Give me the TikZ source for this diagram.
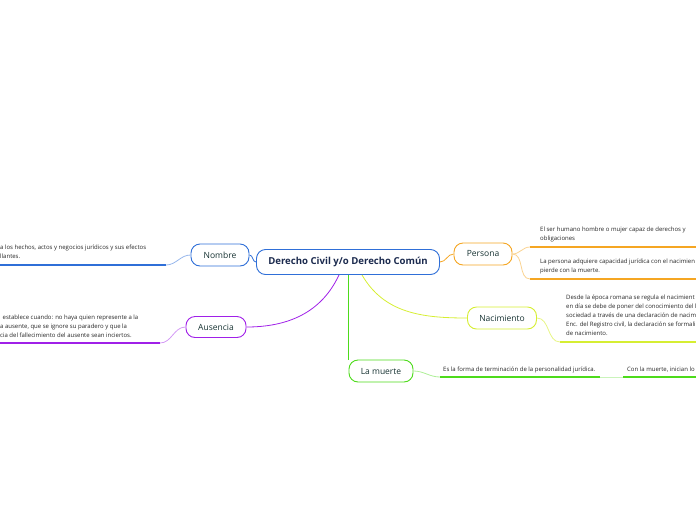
\documentclass[tikz,border=0pt]{standalone}
\usepackage{fontspec}
\setmainfont{Open Sans}
\definecolor{cblue}{HTML}{2F6FD8}
\definecolor{cnavy}{HTML}{1B2A4E}
\definecolor{corange}{HTML}{F5A623}
\definecolor{cpurple}{HTML}{A020E8}
\definecolor{clime}{HTML}{D6EE32}
\definecolor{cgreen}{HTML}{4DDB1B}
\definecolor{ctext}{HTML}{163232}
\definecolor{cleaf}{HTML}{262626}

\begin{document}
\begin{tikzpicture}[x=1pt,y=1pt,
    topic/.style={draw,rounded corners=9pt,line width=0.9pt,fill=white,text=ctext,
        font=\fontsize{8.5}{10}\selectfont,minimum height=22pt,inner sep=2pt},
    leaf/.style={anchor=north west,align=left,inner sep=0pt,text=cleaf,
        font=\fontsize{6}{9}\selectfont},
    link/.style={line width=0.8pt},
    under/.style={line width=1.5pt}]
    \useasboundingbox (0,0) rectangle (696,-520);

    % main topics
    \node[topic,draw=cblue,text=cnavy,minimum width=183pt,minimum height=25pt,
        font=\fontsize{9.6}{12}\selectfont\bfseries] (root) at (348,-262) {Derecho Civil y/o Derecho Común};
    \node[topic,draw=cblue,minimum width=58pt] (nombre) at (220,-255) {Nombre};
    \node[topic,draw=corange,minimum width=58pt] (persona) at (483,-254) {Persona};
    \node[topic,draw=cpurple,minimum width=60pt,minimum height=21pt] (ausencia) at (216,-327) {Ausencia};
    \node[topic,draw=clime,minimum width=69pt] (nacimiento) at (502,-318) {Nacimiento};
    \node[topic,draw=cgreen,minimum width=64pt] (muerte) at (381,-371) {La muerte};

    \draw[link,cblue] (root.west) to[out=180,in=0] (nombre.east);
    \draw[link,corange] (root.east) to[out=0,in=180] (persona.west);
    \draw[link,cpurple] ([xshift=-9pt]root.south) to[out=-115,in=0] (ausencia.east);
    \draw[link,clime] ([xshift=14pt]root.south) to[out=-60,in=180] (nacimiento.west);
    \draw[link,cgreen] (root.south) -- (root.south |- muerte.north);

    % leaves
    \node[leaf] (nombretxt) at (0,-245) {a los hechos, actos y negocios jurídicos y sus efectos\\llantes.};
    \coordinate (nomA) at (166,-265);
    \coordinate (nomB) at (0,-265);
    \draw[link,cblue!50] (nombre.west) to[out=180,in=0] (nomA);
    \draw[under,cblue] (nomA) -- (nomB);

    \node[leaf] (ausenciatxt) at (0,-315) {\hspace{2.5pt}establece cuando: no haya quien represente a la\\a ausente, que se ignore su paradero y que la\\cia del fallecimiento del ausente sean inciertos.};
    \coordinate (ausA) at (160,-343);
    \coordinate (ausB) at (0,-343);
    \draw[link,cpurple!45] (ausencia.west) to[out=180,in=0] (ausA);
    \draw[under,cpurple] (ausA) -- (ausB);

    \node[leaf] (personatxt1) at (540,-227) {El ser humano hombre o mujer capaz de derechos y\\obligaciones};
    \node[leaf] (personatxt2) at (540,-259) {La persona adquiere capacidad jurídica con el nacimien\\pierde con la muerte.};
    \coordinate (perA) at (530,-247);
    \coordinate (perB) at (530,-279);
    \draw[link,corange!50] (persona.east) to[out=0,in=180] (perA);
    \draw[link,corange!50] (persona.east) to[out=0,in=180] (perB);
    \draw[under,corange] (perA) -- (696,-247);
    \draw[under,corange] (perB) -- (696,-279);

    \node[leaf] (nacimientotxt) at (566,-295) {Desde la época romana se regula el nacimient\\en día se debe de poner del conocimiento del l\\sociedad a través de una declaración de nacim\\Enc. del Registro civil, la declaración se formali\\de nacimiento.};
    \coordinate (nacA) at (560,-342);
    \draw[link,clime!60] (nacimiento.east) to[out=0,in=180] (nacA);
    \draw[under,clime] (nacA) -- (696,-342);

    \node[leaf] (muertetxt1) at (443,-367) {Es la forma de terminación de la personalidad jurídica.};
    \node[leaf] (muertetxt2) at (627,-367) {Con la muerte, inician lo};
    \coordinate (mueA) at (440,-377);
    \coordinate (mueB) at (600,-377);
    \coordinate (mueC) at (623,-377);
    \draw[link,cgreen!45] (muerte.east) to[out=0,in=180] (mueA);
    \draw[under,cgreen] (mueA) -- (mueB);
    \draw[link,cgreen!30] (mueB) -- (mueC);
    \draw[under,cgreen] (mueC) -- (696,-377);
\end{tikzpicture}
\end{document}
